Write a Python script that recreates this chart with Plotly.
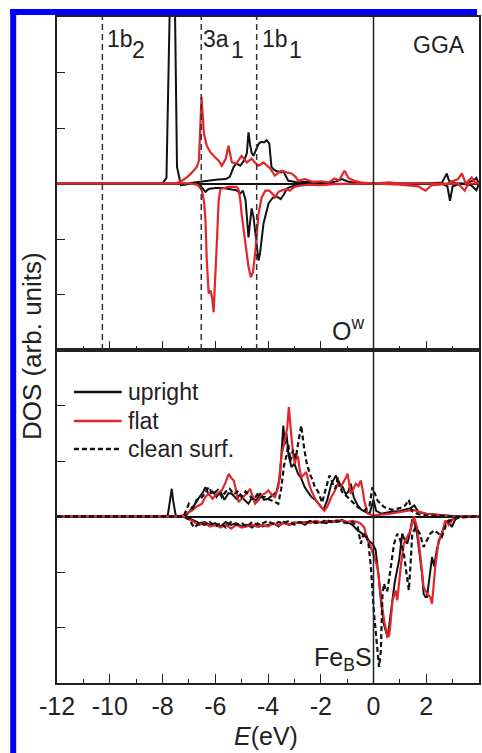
import plotly.graph_objects as go
from plotly.subplots import make_subplots

# ---------------- data ----------------
# Top panel: O^w PDOS, upright water (black)
ow_upright_up_e = [-12, -8.0, -7.85, -7.75, -7.65, -7.55, -7.45, -7.3, -7.1, -6.8, -6.5, -6.2, -5.9, -5.6, -5.45, -5.3, -5.2, -5.05, -4.9, -4.8, -4.74, -4.68, -4.62, -4.55, -4.45, -4.35, -4.25, -4.15, -4.05, -3.95, -3.87, -3.78, -3.65, -3.5, -3.42, -3.3, -3.23, -3.1, -2.9, -2.5, -2.0, -1.6, -1.4, -1.2, -1.0, -0.7, -0.3, 0.0, 1.0, 2.0, 2.6, 2.78, 2.86, 3.1, 3.5, 3.8, 3.9, 4.0]
ow_upright_up_v = [0, 0, 0.1, 3.5, 5.0, 4.0, 0.3, -0.03, -0.02, 0.02, 0.04, 0.06, 0.07, 0.08, 0.12, 0.3, 0.36, 0.32, 0.42, 0.55, 0.92, 0.7, 0.55, 0.5, 0.6, 0.72, 0.75, 0.74, 0.78, 0.72, 0.3, 0.25, 0.22, 0.2, 0.22, 0.12, 0.05, 0.04, 0.02, 0.03, 0.01, 0.02, 0.04, 0.08, 0.04, 0.01, 0.0, 0.0, 0.0, 0.0, 0.02, 0.18, 0.05, 0.0, 0.0, 0.06, 0.1, 0.0]
ow_upright_dn_e = [-12, -7.0, -6.6, -6.5, -6.37, -6.25, -6.0, -5.7, -5.4, -5.2, -5.05, -4.95, -4.85, -4.74, -4.68, -4.62, -4.55, -4.47, -4.42, -4.36, -4.3, -4.22, -4.17, -4.08, -3.98, -3.86, -3.74, -3.62, -3.52, -3.4, -3.3, -3.2, -3.0, -2.6, -2.0, -1.5, 0.0, 2.6, 2.8, 2.9, 3.0, 3.3, 3.7, 3.9, 4.0]
ow_upright_dn_v = [0, 0, -0.02, -0.07, -0.15, -0.1, -0.08, -0.08, -0.1, -0.12, -0.18, -0.13, -0.3, -0.97, -0.7, -0.45, -0.6, -0.95, -1.2, -1.39, -1.25, -0.9, -0.72, -0.55, -0.36, -0.28, -0.22, -0.25, -0.28, -0.2, -0.1, -0.07, -0.04, -0.02, -0.01, -0.01, 0.0, 0.0, -0.05, -0.31, -0.05, 0.0, -0.03, -0.12, 0.0]

# Top panel: O^w PDOS, flat water (red)
ow_flat_up_e = [-12, -7.5, -7.26, -7.05, -6.88, -6.7, -6.62, -6.56, -6.52, -6.47, -6.43, -6.32, -6.18, -6.0, -5.87, -5.75, -5.6, -5.5, -5.37, -5.2, -5.0, -4.8, -4.62, -4.5, -4.36, -4.17, -3.92, -3.74, -3.5, -3.3, -3.11, -2.95, -2.86, -2.6, -2.3, -2.0, -1.7, -1.48, -1.3, -1.1, -0.95, -0.73, -0.5, 0.0, 0.6, 1.0, 2.0, 2.8, 3.2, 3.35, 3.5, 3.72, 3.85, 4.0]
ow_flat_up_v = [0, 0, 0.05, 0.12, 0.2, 0.3, 0.41, 1.0, 1.56, 1.2, 0.9, 0.68, 0.56, 0.47, 0.41, 0.32, 0.45, 0.68, 0.38, 0.36, 0.5, 0.38, 0.45, 0.38, 0.32, 0.38, 0.27, 0.14, 0.23, 0.2, 0.18, 0.12, 0.05, 0.08, 0.03, 0.04, 0.02, 0.09, 0.06, 0.23, 0.1, 0.05, 0.02, 0.0, 0.02, 0.0, 0.0, 0.0, 0.08, 0.18, 0.0, 0.11, 0.02, 0.0]
ow_flat_dn_e = [-12, -7.0, -6.7, -6.6, -6.5, -6.42, -6.37, -6.32, -6.25, -6.18, -6.12, -6.06, -6.03, -5.97, -5.93, -5.87, -5.8, -5.5, -5.2, -5.12, -5.05, -5.0, -4.93, -4.87, -4.8, -4.74, -4.65, -4.57, -4.49, -4.42, -4.36, -4.24, -4.1, -3.95, -3.8, -3.74, -3.6, -3.45, -3.3, -3.17, -3.0, -2.8, -2.4, -2.0, -1.5, 0.0, 1.0, 1.7, 1.97, 2.2, 3.2, 3.46, 3.6, 4.0]
ow_flat_dn_v = [0, 0, -0.02, -0.06, -0.13, -0.35, -0.67, -1.39, -1.98, -1.93, -2.05, -2.32, -1.98, -1.5, -0.97, -0.3, -0.1, -0.06, -0.06, -0.1, -0.3, -0.55, -0.8, -1.08, -1.3, -1.5, -1.69, -1.6, -1.27, -0.85, -0.55, -0.25, -0.13, -0.13, -0.2, -0.25, -0.15, -0.12, -0.1, -0.13, -0.06, -0.04, -0.02, -0.03, -0.01, 0.0, -0.02, -0.05, -0.13, -0.03, 0.0, -0.13, 0.0, 0.0]

# Bottom panel: Fe_B S PDOS, upright water (black)
fe_upright_up_e = [-12, -8.0, -7.8, -7.7, -7.65, -7.6, -7.5, -7.3, -7.1, -7.0, -6.8, -6.6, -6.45, -6.37, -6.25, -6.1, -5.95, -5.8, -5.65, -5.5, -5.37, -5.2, -5.05, -4.9, -4.74, -4.6, -4.45, -4.3, -4.15, -4.0, -3.85, -3.68, -3.55, -3.48, -3.42, -3.36, -3.3, -3.22, -3.11, -3.0, -2.86, -2.75, -2.61, -2.5, -2.35, -2.2, -2.05, -1.9, -1.75, -1.6, -1.42, -1.3, -1.17, -1.05, -0.95, -0.86, -0.75, -0.6, -0.45, -0.3, -0.15, 0.0, 0.1, 0.3, 0.6, 1.0, 1.4, 1.55, 1.7, 2.0, 2.4, 2.8, 3.2, 4.0]
fe_upright_up_v = [0, 0, 0.02, 0.3, 0.5, 0.3, 0.02, 0, 0.02, 0.08, 0.2, 0.35, 0.45, 0.53, 0.4, 0.45, 0.35, 0.45, 0.3, 0.42, 0.41, 0.32, 0.4, 0.3, 0.23, 0.35, 0.28, 0.42, 0.3, 0.32, 0.38, 0.44, 0.7, 1.2, 1.64, 1.3, 1.5, 1.1, 0.89, 0.95, 0.77, 0.7, 0.53, 0.45, 0.35, 0.3, 0.22, 0.12, 0.3, 0.59, 0.74, 0.55, 0.53, 0.4, 0.45, 0.59, 0.35, 0.2, 0.12, 0.08, 0.05, 0.3, 0.1, 0.05, 0.08, 0.1, 0.15, 0.2, 0.08, 0.05, 0.04, 0.02, 0.0, 0.0]
fe_upright_dn_e = [-12, -7.2, -7.0, -6.8, -6.6, -6.4, -6.2, -6.0, -5.8, -5.6, -5.4, -5.2, -5.0, -4.8, -4.6, -4.4, -4.2, -4.0, -3.8, -3.6, -3.4, -3.2, -3.0, -2.8, -2.6, -2.4, -2.2, -2.0, -1.8, -1.6, -1.4, -1.2, -1.0, -0.8, -0.6, -0.45, -0.29, -0.15, -0.04, 0.08, 0.2, 0.3, 0.4, 0.47, 0.53, 0.6, 0.7, 0.8, 0.9, 0.97, 1.09, 1.18, 1.28, 1.38, 1.47, 1.55, 1.65, 1.75, 1.84, 1.9, 1.97, 2.03, 2.1, 2.15, 2.22, 2.3, 2.4, 2.53, 2.65, 2.75, 2.84, 2.97, 3.1, 3.3, 4.0]
fe_upright_dn_v = [0, 0, -0.03, -0.08, -0.12, -0.1, -0.15, -0.12, -0.18, -0.1, -0.15, -0.12, -0.18, -0.15, -0.2, -0.12, -0.18, -0.15, -0.12, -0.18, -0.1, -0.15, -0.12, -0.1, -0.15, -0.08, -0.12, -0.1, -0.12, -0.08, -0.1, -0.06, -0.1, -0.15, -0.25, -0.3, -0.37, -0.45, -0.49, -0.6, -1.1, -1.6, -1.95, -2.1, -2.17, -1.95, -1.6, -1.2, -0.95, -0.79, -0.31, -0.42, -0.49, -0.3, -0.05, -0.1, -0.31, -0.7, -1.03, -1.39, -1.45, -1.45, -1.2, -1.03, -0.73, -0.9, -0.6, -0.37, -0.2, -0.1, -0.07, -0.19, -0.05, 0.0, 0.0]

# Bottom panel: Fe_B S PDOS, flat water (red)
fe_flat_up_e = [-12, -7.4, -7.25, -7.05, -6.87, -6.7, -6.5, -6.38, -6.25, -6.1, -6.0, -5.88, -5.75, -5.62, -5.49, -5.4, -5.3, -5.2, -5.12, -5.0, -4.87, -4.75, -4.68, -4.58, -4.49, -4.35, -4.24, -4.1, -3.99, -3.87, -3.74, -3.61, -3.48, -3.36, -3.27, -3.21, -3.15, -3.11, -3.04, -2.98, -2.92, -2.86, -2.8, -2.74, -2.65, -2.55, -2.45, -2.36, -2.18, -1.99, -1.86, -1.73, -1.6, -1.48, -1.35, -1.23, -1.1, -0.98, -0.86, -0.76, -0.67, -0.57, -0.48, -0.4, -0.35, -0.22, 0.0, 0.5, 1.0, 1.5, 2.0, 2.5, 3.0, 4.0]
fe_flat_up_v = [0, 0, 0.02, 0.06, 0.11, 0.18, 0.23, 0.35, 0.41, 0.32, 0.38, 0.42, 0.47, 0.6, 0.77, 0.7, 0.65, 0.45, 0.26, 0.32, 0.38, 0.45, 0.5, 0.35, 0.23, 0.3, 0.38, 0.42, 0.47, 0.4, 0.35, 0.53, 1.13, 1.37, 1.6, 1.97, 1.6, 1.43, 1.1, 0.95, 1.1, 1.07, 0.85, 0.71, 0.75, 0.8, 0.6, 0.47, 0.29, 0.17, 0.1, 0.2, 0.35, 0.45, 0.59, 0.55, 0.65, 0.77, 0.41, 0.5, 0.59, 0.55, 0.65, 0.45, 0.29, 0.05, 0.02, 0.04, 0.08, 0.12, 0.05, 0.03, 0.0, 0.0]
fe_flat_dn_e = [-12, -7.2, -7.0, -6.8, -6.6, -6.4, -6.2, -6.0, -5.8, -5.6, -5.4, -5.2, -5.0, -4.8, -4.6, -4.36, -4.2, -4.0, -3.8, -3.6, -3.4, -3.2, -3.0, -2.8, -2.6, -2.4, -2.2, -2.0, -1.8, -1.6, -1.4, -1.2, -1.0, -0.8, -0.6, -0.48, -0.35, -0.29, -0.2, -0.1, 0.0, 0.15, 0.28, 0.4, 0.53, 0.59, 0.65, 0.72, 0.84, 0.9, 0.97, 1.03, 1.15, 1.28, 1.4, 1.53, 1.65, 1.78, 1.9, 2.03, 2.15, 2.22, 2.34, 2.47, 2.6, 2.72, 2.85, 3.0, 3.2, 4.0]
fe_flat_dn_v = [0, 0, -0.05, -0.1, -0.15, -0.12, -0.18, -0.15, -0.2, -0.15, -0.22, -0.15, -0.2, -0.18, -0.15, -0.19, -0.15, -0.18, -0.12, -0.16, -0.12, -0.15, -0.1, -0.12, -0.1, -0.12, -0.08, -0.1, -0.08, -0.1, -0.07, -0.08, -0.1, -0.08, -0.1, -0.13, -0.2, -0.31, -0.45, -0.55, -0.7, -0.91, -1.45, -1.87, -2.17, -2.15, -1.9, -1.51, -1.33, -1.51, -1.2, -0.91, -0.49, -0.37, -0.25, 0.0, -0.19, -0.73, -1.27, -1.39, -1.45, -1.57, -0.91, -0.43, -0.3, -0.07, -0.15, -0.05, 0.0, 0.0]

# Bottom panel: Fe_B S PDOS, clean surface (dashed black)
fe_clean_up_e = [-12, -7.2, -7.0, -6.85, -6.7, -6.5, -6.35, -6.25, -6.1, -5.9, -5.75, -5.6, -5.45, -5.3, -5.15, -5.0, -4.85, -4.7, -4.55, -4.4, -4.25, -4.11, -3.95, -3.8, -3.61, -3.5, -3.4, -3.3, -3.23, -3.15, -3.05, -2.95, -2.85, -2.74, -2.65, -2.55, -2.42, -2.3, -2.23, -2.1, -1.95, -1.8, -1.67, -1.55, -1.45, -1.35, -1.2, -1.05, -0.86, -0.6, -0.35, -0.15, -0.04, 0.05, 0.15, 0.4, 0.7, 1.0, 1.2, 1.34, 1.45, 1.7, 2.0, 2.5, 3.0, 4.0]
fe_clean_up_v = [0, 0, 0.23, 0.15, 0.3, 0.35, 0.45, 0.53, 0.4, 0.48, 0.35, 0.45, 0.5, 0.4, 0.45, 0.35, 0.45, 0.38, 0.3, 0.4, 0.35, 0.35, 0.3, 0.28, 0.23, 0.5, 0.9, 1.1, 1.3, 1.0, 1.2, 1.05, 1.3, 1.64, 1.3, 1.0, 0.77, 0.65, 0.53, 0.45, 0.25, 0.5, 0.74, 0.6, 0.5, 0.7, 0.45, 0.38, 0.29, 0.17, 0.1, 0.2, 0.53, 0.4, 0.29, 0.17, 0.12, 0.15, 0.2, 0.3, 0.1, 0.04, 0.02, 0.01, 0.0, 0.0]
fe_clean_dn_e = [-12, -7.2, -7.0, -6.8, -6.6, -6.4, -6.2, -6.0, -5.8, -5.6, -5.4, -5.2, -5.0, -4.8, -4.6, -4.4, -4.2, -4.0, -3.8, -3.6, -3.4, -3.2, -3.0, -2.8, -2.6, -2.4, -2.2, -2.0, -1.8, -1.6, -1.4, -1.2, -1.0, -0.8, -0.6, -0.48, -0.4, -0.3, -0.2, -0.1, -0.04, 0.02, 0.08, 0.15, 0.21, 0.28, 0.34, 0.4, 0.47, 0.53, 0.65, 0.78, 0.9, 1.0, 1.15, 1.22, 1.28, 1.34, 1.4, 1.47, 1.6, 1.75, 1.9, 2.03, 2.15, 2.3, 2.47, 2.59, 2.75, 2.9, 3.1, 4.0]
fe_clean_dn_v = [0, 0, -0.05, -0.2, -0.12, -0.15, -0.1, -0.18, -0.12, -0.2, -0.1, -0.15, -0.12, -0.18, -0.1, -0.15, -0.12, -0.08, -0.14, -0.1, -0.12, -0.08, -0.15, -0.1, -0.12, -0.08, -0.1, -0.12, -0.06, -0.1, -0.08, -0.1, -0.12, -0.1, -0.19, -0.49, -0.35, -0.3, -0.45, -0.91, -1.45, -1.75, -2.05, -2.35, -2.71, -2.41, -1.39, -1.21, -1.35, -1.33, -0.91, -0.49, -0.31, -0.4, -0.67, -0.91, -1.15, -1.33, -0.9, -0.31, -0.2, -0.3, -0.55, -0.43, -0.31, -0.25, -0.31, -0.37, -0.15, -0.07, -0.02, 0.0]

# Orbital reference energies (dashed lines) and labels
orbital_e = [-10.28, -6.53, -4.43]
orbital_main = ["1b", "3a", "1b"]
orbital_sub = ["2", "1", "1"]

x_ticks = [-12, -10, -8, -6, -4, -2, 0, 2, 4]
x_tick_text = ["-12", "-10", "-8", "-6", "-4", "-2", "0", "2", "4"]
series_names = ["upright", "flat", "clean surf."]

# ---------------- figure ----------------
W, H = 482, 753
L, R, T, B = 57, 1, 17, 70
PW, PH = W - L - R, H - T - B


def px(xpix):
    return (xpix - L) / PW


def py(ypix):
    return (H - B - ypix) / PH


BLACK = "#111111"
RED = "#e3262b"
FONT = "Liberation Sans, Arial, sans-serif"
TXT = "#222222"

fig = make_subplots(rows=2, cols=1, shared_xaxes=True, vertical_spacing=0)

def add(e, v, row, color, dash="solid", width=2.0):
    fig.add_trace(go.Scatter(x=e, y=v, mode="lines", showlegend=False,
                             line=dict(color=color, width=width, dash=dash)),
                  row=row, col=1)

add(ow_upright_up_e, ow_upright_up_v, 1, BLACK)
add(ow_upright_dn_e, ow_upright_dn_v, 1, BLACK)
add(ow_flat_up_e, ow_flat_up_v, 1, RED, width=2.2)
add(ow_flat_dn_e, ow_flat_dn_v, 1, RED, width=2.2)

add(fe_upright_up_e, fe_upright_up_v, 2, BLACK)
add(fe_upright_dn_e, fe_upright_dn_v, 2, BLACK)
add(fe_flat_up_e, fe_flat_up_v, 2, RED, width=2.2)
add(fe_flat_dn_e, fe_flat_dn_v, 2, RED, width=2.2)
add(fe_clean_up_e, fe_clean_up_v, 2, BLACK, dash="5px,3px", width=2.2)
add(fe_clean_dn_e, fe_clean_dn_v, 2, BLACK, dash="5px,3px", width=2.2)

xaxis_common = dict(range=[-12, 4], tickvals=x_ticks, ticktext=x_tick_text,
                    ticks="inside", ticklen=9,
                    tickwidth=1.3, tickcolor="#222", showline=True, linecolor="#222",
                    linewidth=1.5, mirror=True, showgrid=False, zeroline=False,
                    minor=dict(ticks="inside", ticklen=4, dtick=1, tick0=0,
                               tickcolor="#222", tickwidth=1.3, showgrid=False),
                    tickfont=dict(family=FONT, size=25, color=TXT))
fig.update_xaxes(**xaxis_common)
fig.update_xaxes(showticklabels=False, row=1, col=1)

yaxis_common = dict(range=[-3, 3], tickvals=[-2, -1, 1, 2], ticks="inside",
                    ticklen=8, tickwidth=1.3, tickcolor="#222", showticklabels=False,
                    showline=True, linecolor="#222", linewidth=1.5, mirror=True,
                    showgrid=False, zeroline=True, zerolinecolor="#111",
                    zerolinewidth=1.5)
fig.update_yaxes(**yaxis_common)

shapes = []
# vertical Fermi line across both panels
shapes.append(dict(type="line", xref="x", yref="paper", x0=0, x1=0, y0=0, y1=1,
                   line=dict(color="#222", width=1.5)))
# orbital dashed lines in top panel
for e in orbital_e:
    shapes.append(dict(type="line", xref="x", yref="y domain", x0=e, x1=e, y0=0, y1=1,
                       line=dict(color="#333", width=1.5, dash="6px,4px")))
# blue border (top and left strips)
shapes.append(dict(type="rect", xref="paper", yref="paper", x0=px(10), x1=px(479),
                   y0=py(15), y1=py(9), fillcolor="#0000ff", line=dict(width=0)))
shapes.append(dict(type="rect", xref="paper", yref="paper", x0=px(10), x1=px(16),
                   y0=py(760), y1=py(9), fillcolor="#0000ff", line=dict(width=0)))
# manual legend samples
leg_y = [392, 421, 449]
leg_style = [(BLACK, "solid"), (RED, "solid"), (BLACK, "5px,3px")]
for yy, (c, d) in zip(leg_y, leg_style):
    shapes.append(dict(type="line", xref="paper", yref="paper", x0=px(74), x1=px(122),
                       y0=py(yy), y1=py(yy), line=dict(color=c, width=2.3, dash=d)))
fig.update_layout(shapes=shapes)

ann = []
def text(s, x, y, size, xanchor="left", yanchor="middle", **kw):
    ann.append(dict(text=s, x=px(x), y=py(y), xref="paper", yref="paper",
                    xanchor=xanchor, yanchor=yanchor, showarrow=False,
                    font=dict(family=FONT, size=size, color=TXT), **kw))

# orbital labels
lab_main_x = [107, 204, 263]
lab_sub_x = [132, 232, 290]
for m, s, xm, xs in zip(orbital_main, orbital_sub, lab_main_x, lab_sub_x):
    text(m, xm - 2, 39, 23)
    text(s, xs - 2, 50, 23)
text("GGA", 441, 45, 23, xanchor="center")
text("O<sup>w</sup>", 331, 329, 25)
text("Fe<sub>B</sub>S", 313, 659, 25)
for yy, name in zip(leg_y, series_names):
    text(name, 126, yy, 23)
text("DOS (arb. units)", 32, 346, 26, xanchor="center", textangle=-90)
text("<i>E</i>(eV)", 267, 736, 25, xanchor="center")

fig.update_layout(annotations=ann, width=W, height=H,
                  margin=dict(l=L, r=R, t=T, b=B),
                  paper_bgcolor="white", plot_bgcolor="white",
                  font=dict(family=FONT, color=TXT))

fig.write_html("out.html")
